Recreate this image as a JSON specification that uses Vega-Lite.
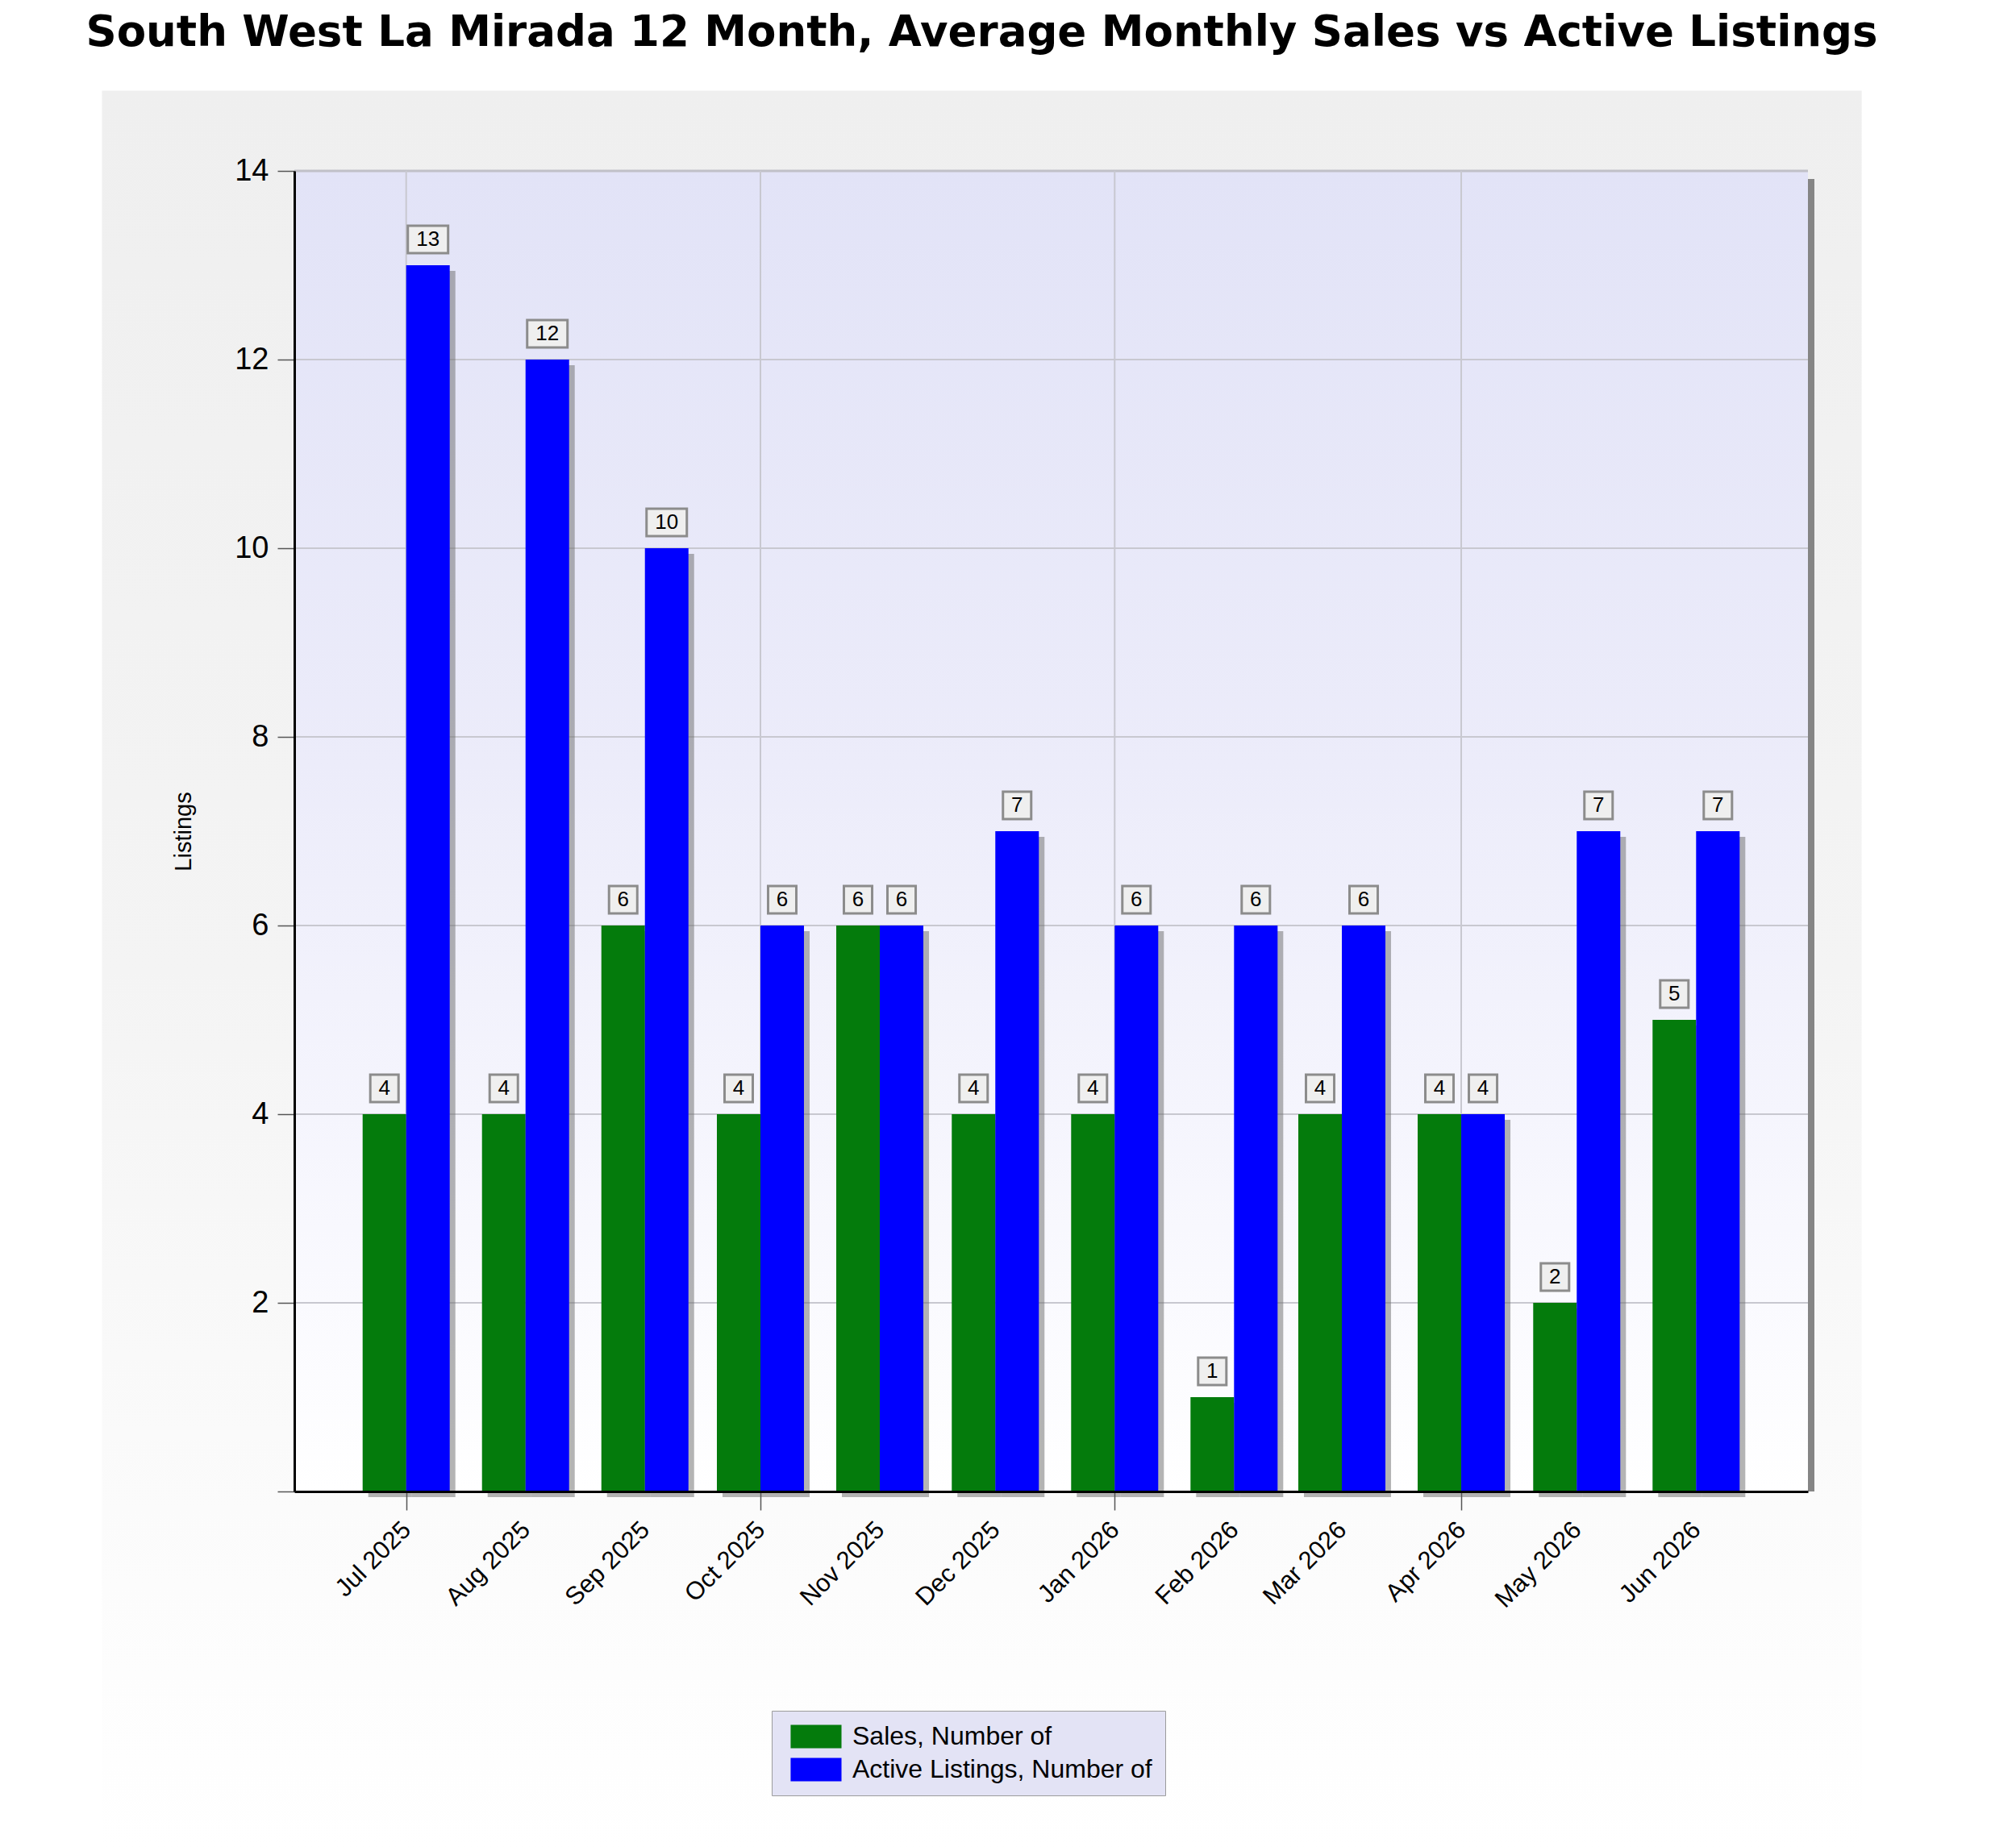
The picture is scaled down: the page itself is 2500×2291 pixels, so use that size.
{
  "$schema": "https://vega.github.io/schema/vega-lite/v6.json",
  "width": 1877,
  "height": 1638,
  "autosize": {"type": "none"},
  "padding": {"left": 365, "top": 212, "right": 258, "bottom": 441},
  "background": "#ffffff",
  "title": {
    "text": "South West La Mirada 12 Month, Average Monthly Sales vs Active Listings",
    "font": "DejaVu Sans",
    "fontSize": 53,
    "fontWeight": "bold",
    "color": "#000000",
    "anchor": "middle",
    "frame": "group",
    "dx": -86,
    "offset": 3,
    "baseline": "alphabetic",
    "zindex": 1
  },
  "data": {
    "values": [
      {"month": "2025-07-01", "sales": 4, "active": 13},
      {"month": "2025-08-01", "sales": 4, "active": 12},
      {"month": "2025-09-01", "sales": 6, "active": 10},
      {"month": "2025-10-01", "sales": 4, "active": 6},
      {"month": "2025-11-01", "sales": 6, "active": 6},
      {"month": "2025-12-01", "sales": 4, "active": 7},
      {"month": "2026-01-01", "sales": 4, "active": 6},
      {"month": "2026-02-01", "sales": 1, "active": 6},
      {"month": "2026-03-01", "sales": 4, "active": 6},
      {"month": "2026-04-01", "sales": 4, "active": 4},
      {"month": "2026-05-01", "sales": 2, "active": 7},
      {"month": "2026-06-01", "sales": 5, "active": 7}
    ]
  },
  "layer": [
    {
      "data": {"values": [{}]},
      "mark": {
        "type": "rect",
        "color": {
          "gradient": "linear", "x1": 0, "y1": 0, "x2": 0, "y2": 1,
          "stops": [
            {"offset": 0, "color": "#efefef"},
            {"offset": 0.5, "color": "#f4f4f4"},
            {"offset": 0.85, "color": "#fcfcfc"},
            {"offset": 1, "color": "#ffffff"}
          ]
        }
      },
      "encoding": {
        "x": {
          "datum": {"year": 2025, "month": 4, "date": 13, "utc": true},
          "type": "temporal",
          "scale": {"type": "utc", "domain": [{"year": 2025, "month": 6, "date": 3, "utc": true}, {"year": 2026, "month": 6, "date": 29, "utc": true}]},
          "axis": {
            "title": null,
            "labelExpr": "utcFormat(datum.value, '%b %Y')",
            "tickCount": {"interval": "month", "step": 1},
            "labelAngle": -45,
            "labelFont": "Liberation Sans",
            "labelFontSize": 31,
            "labelColor": "#000000",
            "labelOverlap": false,
            "labelBound": false,
            "labelFlush": false,
            "labelPadding": 9,
            "labelOffset": -10,
            "tickSize": 23,
            "tickWidth": 1.5,
            "tickColor": {"condition": {"test": "utcmonth(datum.value) % 3 == 0", "value": "#555555"}, "value": "transparent"},
            "domainColor": "#000000",
            "domainWidth": 3,
            "grid": false,
            "zindex": 1
          }
        },
        "x2": {"datum": {"year": 2026, "month": 7, "date": 14, "utc": true}},
        "y": {
          "datum": 14.85,
          "type": "quantitative",
          "scale": {"domain": [0, 14], "nice": false},
          "axis": {
            "title": "Listings",
            "titleFont": "Liberation Sans",
            "titleFontSize": 29,
            "titleFontWeight": "normal",
            "titleColor": "#000000",
            "titlePadding": 48,
            "values": [0, 2, 4, 6, 8, 10, 12, 14],
            "format": "d",
            "labelExpr": "datum.value == 0 ? '' : datum.label",
            "labelFont": "Liberation Sans",
            "labelFontSize": 38,
            "labelColor": "#000000",
            "labelPadding": 11,
            "tickSize": 21,
            "tickWidth": 1.5,
            "tickColor": "#555555",
            "domainColor": "#000000",
            "domainWidth": 3,
            "grid": false,
            "zindex": 1
          }
        },
        "y2": {"datum": -3.8}
      }
    },
    {
      "data": {"values": [{}]},
      "mark": {"type": "rect", "color": "#858585", "xOffset": 8, "x2Offset": 8, "yOffset": 10},
      "encoding": {"y": {"datum": 14, "type": "quantitative"}, "y2": {"datum": 0}}
    },
    {
      "data": {"values": [{}]},
      "mark": {
        "type": "rect",
        "color": {
          "gradient": "linear", "x1": 0, "y1": 0, "x2": 0, "y2": 1,
          "stops": [
            {"offset": 0, "color": "#e2e3f7"},
            {"offset": 0.45, "color": "#ececfa"},
            {"offset": 0.8, "color": "#f8f8fe"},
            {"offset": 1, "color": "#ffffff"}
          ]
        }
      },
      "encoding": {"y": {"datum": 14, "type": "quantitative"}, "y2": {"datum": 0}}
    },
    {"data": {"values": [{}]}, "mark": {"type": "rule", "color": "#c8c8d0", "strokeWidth": 2}, "encoding": {"y": {"datum": 2, "type": "quantitative"}}},
    {"data": {"values": [{}]}, "mark": {"type": "rule", "color": "#c8c8d0", "strokeWidth": 2}, "encoding": {"y": {"datum": 4, "type": "quantitative"}}},
    {"data": {"values": [{}]}, "mark": {"type": "rule", "color": "#c8c8d0", "strokeWidth": 2}, "encoding": {"y": {"datum": 6, "type": "quantitative"}}},
    {"data": {"values": [{}]}, "mark": {"type": "rule", "color": "#c8c8d0", "strokeWidth": 2}, "encoding": {"y": {"datum": 8, "type": "quantitative"}}},
    {"data": {"values": [{}]}, "mark": {"type": "rule", "color": "#c8c8d0", "strokeWidth": 2}, "encoding": {"y": {"datum": 10, "type": "quantitative"}}},
    {"data": {"values": [{}]}, "mark": {"type": "rule", "color": "#c8c8d0", "strokeWidth": 2}, "encoding": {"y": {"datum": 12, "type": "quantitative"}}},
    {"data": {"values": [{}]}, "mark": {"type": "rule", "color": "#c0c0c8", "strokeWidth": 3}, "encoding": {"y": {"datum": 14, "type": "quantitative"}}},
    {"data": {"values": [{}]}, "mark": {"type": "rule", "color": "#c8c8d0", "strokeWidth": 2}, "encoding": {"x": {"datum": {"year": 2025, "month": 7, "date": 1, "utc": true}, "type": "temporal"}}},
    {"data": {"values": [{}]}, "mark": {"type": "rule", "color": "#c8c8d0", "strokeWidth": 2}, "encoding": {"x": {"datum": {"year": 2025, "month": 10, "date": 1, "utc": true}, "type": "temporal"}}},
    {"data": {"values": [{}]}, "mark": {"type": "rule", "color": "#c8c8d0", "strokeWidth": 2}, "encoding": {"x": {"datum": {"year": 2026, "month": 1, "date": 1, "utc": true}, "type": "temporal"}}},
    {"data": {"values": [{}]}, "mark": {"type": "rule", "color": "#c8c8d0", "strokeWidth": 2}, "encoding": {"x": {"datum": {"year": 2026, "month": 4, "date": 1, "utc": true}, "type": "temporal"}}},
    {
      "mark": {"type": "bar", "width": 54, "xOffset": -20, "yOffset": 7, "y2Offset": 7, "color": "#6a6a6a", "opacity": 0.5},
      "encoding": {
        "x": {"field": "month", "type": "temporal"},
        "y": {"field": "sales", "type": "quantitative"}
      }
    },
    {
      "mark": {"type": "bar", "width": 54, "xOffset": 34, "yOffset": 7, "y2Offset": 7, "color": "#6a6a6a", "opacity": 0.5},
      "encoding": {
        "x": {"field": "month", "type": "temporal"},
        "y": {"field": "active", "type": "quantitative"}
      }
    },
    {
      "mark": {"type": "bar", "width": 54, "xOffset": -27, "opacity": 1},
      "encoding": {
        "x": {"field": "month", "type": "temporal"},
        "y": {"field": "sales", "type": "quantitative"},
        "color": {
          "datum": "Sales, Number of",
          "type": "nominal",
          "scale": {"domain": ["Sales, Number of", "Active Listings, Number of"], "range": ["#047b0c", "#0000ff"]},
          "legend": {
            "title": null,
            "orient": "none",
            "legendX": 592,
            "legendY": 1910,
            "direction": "vertical",
            "fillColor": "#e3e3f5",
            "strokeColor": "#9c9c9c",
            "padding": 16,
            "symbolType": "M-0.59,-1H3.76V1H-0.59Z",
            "symbolSize": 841,
            "symbolStrokeWidth": 0,
            "symbolOpacity": 1,
            "labelFont": "Liberation Sans",
            "labelFontSize": 32,
            "labelColor": "#000000",
            "labelOffset": 52,
            "labelLimit": 800,
            "rowPadding": 9,
            "zindex": 1
          }
        }
      }
    },
    {
      "mark": {"type": "bar", "width": 54, "xOffset": 27, "opacity": 1},
      "encoding": {
        "x": {"field": "month", "type": "temporal"},
        "y": {"field": "active", "type": "quantitative"},
        "color": {"datum": "Active Listings, Number of", "type": "nominal"}
      }
    },
    {
      "mark": {"type": "point", "filled": true, "fill": "#efefef", "stroke": "#8c8c8c", "strokeWidth": 3, "opacity": 1, "size": 1156, "shape": "M-1.03,-1H1.03V1H-1.03Z", "xOffset": -27, "yOffset": -32},
      "encoding": {
        "x": {"field": "month", "type": "temporal"},
        "y": {"field": "sales", "type": "quantitative"}
      }
    },
    {
      "mark": {"type": "point", "filled": true, "fill": "#efefef", "stroke": "#8c8c8c", "strokeWidth": 3, "opacity": 1, "size": 1156, "xOffset": 27, "yOffset": -32},
      "encoding": {
        "x": {"field": "month", "type": "temporal"},
        "y": {"field": "active", "type": "quantitative"},
        "shape": {"condition": {"test": "datum.active >= 10", "value": "M-1.47,-1H1.47V1H-1.47Z"}, "value": "M-1.03,-1H1.03V1H-1.03Z"}
      }
    },
    {
      "mark": {"type": "text", "font": "Liberation Sans", "fontSize": 26, "color": "#000000", "align": "center", "baseline": "middle", "dx": -27, "dy": -32},
      "encoding": {
        "x": {"field": "month", "type": "temporal"},
        "y": {"field": "sales", "type": "quantitative"},
        "text": {"field": "sales", "type": "quantitative"}
      }
    },
    {
      "mark": {"type": "text", "font": "Liberation Sans", "fontSize": 26, "color": "#000000", "align": "center", "baseline": "middle", "dx": 27, "dy": -32},
      "encoding": {
        "x": {"field": "month", "type": "temporal"},
        "y": {"field": "active", "type": "quantitative"},
        "text": {"field": "active", "type": "quantitative"}
      }
    }
  ],
  "config": {
    "view": {"stroke": null},
    "font": "Liberation Sans"
  }
}
